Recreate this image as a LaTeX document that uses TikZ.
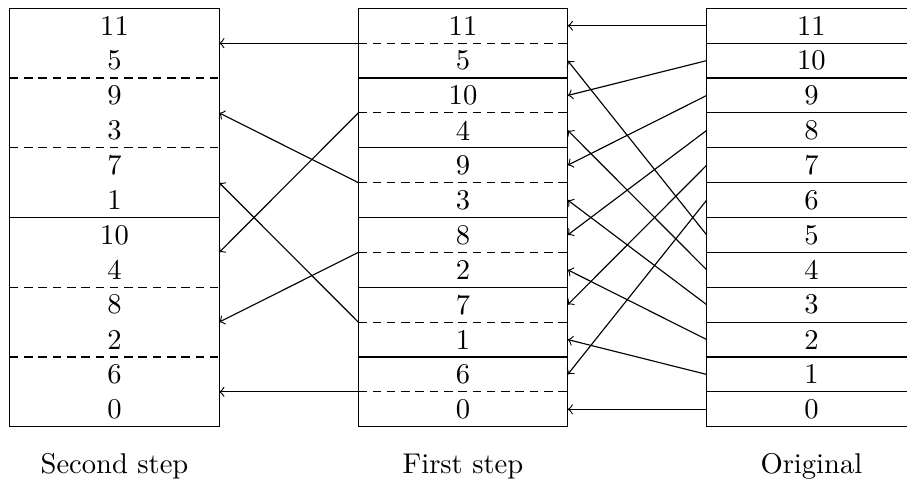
\documentclass[tikz,border=0pt]{standalone}
\begin{document}
\begin{tikzpicture}[x=0.35pt,y=-0.35pt,
  cell/.style={minimum width=73.29pt,minimum height=12.2pt,inner sep=0pt,outer sep=0pt},
  frame/.style={line width=0.4pt},
  sep/.style={line width=0.4pt},
  dsep/.style={line width=0.4pt,dash pattern=on 3pt off 2pt},
  conn/.style={line width=0.4pt,->},
  lab/.style={anchor=base,inner sep=0pt}]
\path[use as bounding box,clip] (0,0) rectangle (907,483);

% cells of the three columns
\foreach \v [count=\i from 0] in {11,5,9,3,7,1,10,4,8,2,6,0}
  \node[cell] (L\i) at (114.5,{8.3+34.87*(\i+0.5)}) {\v};
\foreach \v [count=\i from 0] in {11,5,10,4,9,3,8,2,7,1,6,0}
  \node[cell] (M\i) at (463,{8.3+34.87*(\i+0.5)}) {\v};
\foreach \v [count=\i from 0] in {11,10,9,8,7,6,5,4,3,2,1,0}
  \node[cell] (R\i) at (811.4,{8.3+34.87*(\i+0.5)}) {\v};

% outlines
\draw[frame] (L0.north west) rectangle (L11.south east);
\draw[frame] (M0.north west) rectangle (M11.south east);
\draw[frame] (R0.north east) -- (R0.north west) -- (R11.south west) -- (R11.south east);

% row separators
\foreach \i in {1,3,7,9}
  \draw[dsep] (L\i.south west) -- (L\i.south east);
\draw[sep] (L5.south west) -- (L5.south east);
\foreach \i in {0,2,4,6,8,10}
  \draw[dsep] (M\i.south west) -- (M\i.south east);
\foreach \i in {1,3,5,7,9}
  \draw[sep] (M\i.south west) -- (M\i.south east);
\foreach \i in {0,...,10}
  \draw[sep] (R\i.south west) -- (R\i.south east);

% first step: original -> first step
\foreach \r/\m in {0/0,1/2,2/4,3/6,4/8,5/10,6/1,7/3,8/5,9/7,10/9,11/11}
  \draw[conn] (R\r.west) -- (M\m.east);

% second step: pairs of the first step -> second step
\foreach \a/\b in {0/0,2/6,4/2,6/8,8/4,10/10}
  \draw[conn] (M\a.south west) -- (L\b.south east);

% captions
\node[lab] (capL) at (114.5,473) {Second step};
\node[lab] (capM) at (463,473) {First step};
\node[lab] (capR) at (811.4,473) {Original};
\end{tikzpicture}
\end{document}
